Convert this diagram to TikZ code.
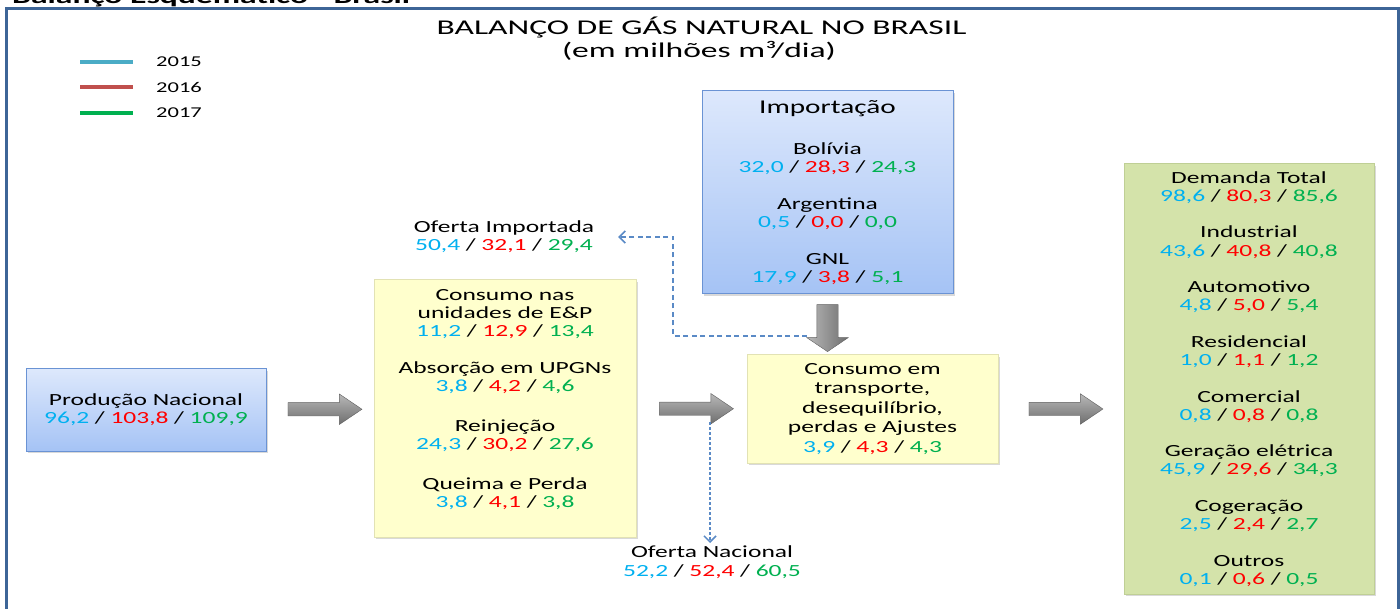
\documentclass[tikz,border=0pt]{standalone}
\usepackage{fontspec}
\setmainfont{Carlito}[FakeStretch=1.5]
\newfontfamily\titlefont{Carlito}[FakeStretch=1.6]
\usepackage{tikz}
\usetikzlibrary{arrows.meta,shapes,positioning,shadows,calc}
\definecolor{c15}{HTML}{00B0F0}
\definecolor{c16}{HTML}{FF0000}
\definecolor{c17}{HTML}{00B050}
\definecolor{l15}{HTML}{4BACC6}
\definecolor{l16}{HTML}{C0504D}
\definecolor{l17}{HTML}{00B050}
\definecolor{framecol}{HTML}{3D6597}
\definecolor{linkcol}{HTML}{5A8AC6}
\definecolor{blueline}{HTML}{6A93D4}
\definecolor{bluetop}{HTML}{DDE8FC}
\definecolor{bluebot}{HTML}{A5C3F5}
\definecolor{yelline}{HTML}{E2E2B4}
\definecolor{yelfill}{HTML}{FFFFCD}
\definecolor{grnline}{HTML}{BFCF95}
\definecolor{grnfill}{HTML}{D4E3AA}
\definecolor{arrowline}{HTML}{5F5F5F}
\definecolor{arrowtop}{HTML}{B8B8B8}
\definecolor{arrowbot}{HTML}{6E6E6E}
\newcommand\vals[3]{\textcolor{c15}{#1} / \textcolor{c16}{#2} / \textcolor{c17}{#3}}
\newcommand\bodysize{\fontsize{17}{18.2}\selectfont}
\tikzstyle{every node}=[inner sep=2pt, font=\bodysize]
\tikzset{
    source/.style={
                draw=blueline,
                line width=1pt,
                top color=bluetop,
                bottom color=bluebot,
                align=center,
                drop shadow={shadow xshift=2pt, shadow yshift=-2pt, opacity=0.3}
            },
        loss/.style={
                draw=yelline,
                line width=1pt,
                fill=yelfill,
                align=center,
                drop shadow={shadow xshift=2pt, shadow yshift=-2pt, opacity=0.3}
            },
        demand/.style={
                draw=grnline,
                line width=1pt,
                fill=grnfill,
                align=center,
                drop shadow={shadow xshift=2pt, shadow yshift=-2pt, opacity=0.3}
            },
        blockarrow/.style={
                single arrow,
                draw=arrowline,
                top color=arrowtop,
                bottom color=arrowbot,
                minimum height=74pt,
                inner sep=6.5pt,
                single arrow head extend=8.5pt,
                single arrow tip angle=68
            },
        dashlink/.style={
                draw=linkcol,
                line width=1.5pt,
                dash pattern=on 5pt off 3.5pt,
                -{Straight Barb[length=6pt,width=12pt]}
            },
        offer/.style={
                align=center,
                text width=200pt,
                font=\fontsize{17}{18}\selectfont
            },
        yearline/.style={line width=4pt},
}
\begin{document}
\begin{tikzpicture}[x=1pt, y=-1pt]
\clip (0,0) rectangle (1400,609);
% Heading and frame
\node[anchor=base west, inner sep=0pt, font=\titlefont\bfseries\fontsize{21}{21}\selectfont] (header) at (12,4) {Balanço Esquemático - Brasil};
\draw[framecol, line width=3pt] (6.5,9) rectangle (1398,660);
\node[anchor=base, font=\titlefont\fontsize{21}{21}\selectfont] (title) at (701.5,35) {BALANÇO DE GÁS NATURAL NO BRASIL};
\node[anchor=base, font=\titlefont\fontsize{21}{21}\selectfont] (subtitle) at (699,58) {(em milhões m³/dia)};
% Legend
\foreach \yr/\col/\yy in {2015/l15/62, 2016/l16/87, 2017/l17/113}{
  \node[anchor=west, font=\fontsize{15}{15}\selectfont] (y\yr) at (154,\yy) {\yr};
  \draw[yearline, \col] ([xshift=-74pt]y\yr.west) -- ([xshift=-21pt]y\yr.west);
}
% Boxes
\node[source, minimum width=240pt, minimum height=82pt, text width=234pt] (prod) at (146,410)
  {Produção Nacional\\ \vals{96,2}{103,8}{109,9}};
\node[loss, minimum width=262pt, minimum height=257pt, text width=254pt, text depth=228pt] (ep) at (505,408.5)
  {Consumo nas\\ unidades de E\&P\\ \vals{11,2}{12,9}{13,4}\\[19pt]
   Absorção em UPGNs\\ \vals{3,8}{4,2}{4,6}\\[21pt]
   Reinjeção\\ \vals{24,3}{30,2}{27,6}\\[22pt]
   Queima e Perda\\ \vals{3,8}{4,1}{3,8}};
\node[source, minimum width=251pt, minimum height=203pt, text width=244pt] (imp) at (827.5,192.5)
  {{\fontsize{19.5}{21}\selectfont Importação}\\[22.8pt]
   Bolívia\\ \vals{32,0}{28,3}{24,3}\\[18.8pt]
   Argentina\\ \vals{0,5}{0,0}{0,0}\\[18.8pt]
   GNL\\ \vals{17,9}{3,8}{5,1}};
\node[loss, minimum width=251pt, minimum height=108pt, text width=244pt, font=\fontsize{17}{19.5}\selectfont] (ctr) at (872.5,409)
  {Consumo em\\ transporte,\\ desequilíbrio,\\ perdas e Ajustes\\ \vals{3,9}{4,3}{4,3}};
\node[demand, minimum width=250pt, minimum height=430pt, text width=244pt] (dem) at (1249,379)
  {Demanda Total\\ \vals{98,6}{80,3}{85,6}\\[18.3pt]
   Industrial\\ \vals{43,6}{40,8}{40,8}\\[18.3pt]
   Automotivo\\ \vals{4,8}{5,0}{5,4}\\[18.3pt]
   Residencial\\ \vals{1,0}{1,1}{1,2}\\[18.3pt]
   Comercial\\ \vals{0,8}{0,8}{0,8}\\[18.3pt]
   Geração elétrica\\ \vals{45,9}{29,6}{34,3}\\[18.3pt]
   Cogeração\\ \vals{2,5}{2,4}{2,7}\\[18.3pt]
   Outros\\ \vals{0,1}{0,6}{0,5}};
% Flow arrows
\node[blockarrow] (a1) at ($(prod.east)!.5!(ep.west)$) {};
\node[blockarrow] (a2) at ($(ep.east)!.5!(ctr.west)$) {};
\node[blockarrow] (a3) at ($(ctr.east)!.5!(ctr.east -| dem.west)$) {};
\node[blockarrow, shape border rotate=270, minimum height=47pt, inner sep=10.5pt,
  single arrow head extend=10pt, single arrow tip angle=112,
  left color=arrowtop, right color=arrowbot] (a4) at ($(imp.south)!.5!(imp.south |- ctr.north)$) {};
% Offers
\node[offer] (oimp) at (504,237) {Oferta Importada\\ \vals{50,4}{32,1}{29,4}};
\node[offer, anchor=north, font=\fontsize{17}{19}\selectfont] (onat) at (712,543) {Oferta Nacional\\ \vals{52,2}{52,4}{60,5}};
\coordinate (impsplit) at (807,336);
\coordinate (natsplit) at (710,422);
\draw[dashlink] (impsplit) -| ([xshift=67pt]oimp.east) -- ([xshift=12pt]oimp.east);
\draw[dashlink, dash pattern=on 3pt off 2pt] (natsplit) -- (natsplit |- onat.north);
\end{tikzpicture}
\end{document}
